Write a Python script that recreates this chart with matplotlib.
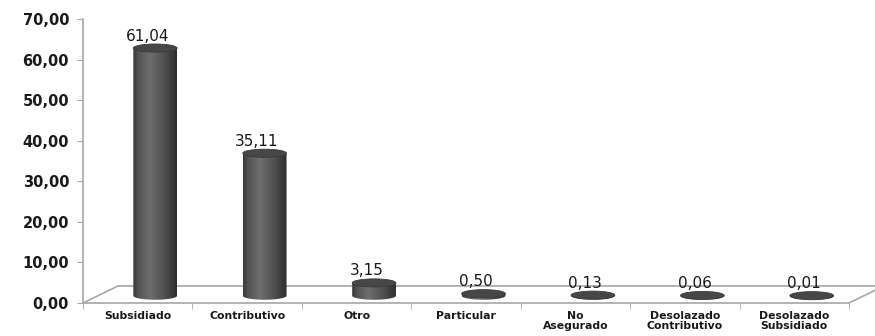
import numpy as np
import matplotlib.pyplot as plt
from matplotlib.patches import Ellipse, PathPatch
from matplotlib.path import Path

categorias = ["Subsidiado", "Contributivo", "Otro", "Particular",
              "No\nAsegurado", "Desolazado\nContributivo", "Desolazado\nSubsidiado"]
valores = [61.04, 35.11, 3.15, 0.50, 0.13, 0.06, 0.01]
ticks_y = [0, 10, 20, 30, 40, 50, 60, 70]

GRIS = "#a6a6a6"
TEXTO = "#1a1a1a"

# profundidad del piso 3D en unidades de datos
prof_x, prof_y = 0.32, 4.2
base = 1.8        # los cilindros se apoyan a media profundidad
desp = 0.16
semi_ancho = 0.20
semi_alto = 1.0   # radio vertical de la elipse


def fmt(v, dec=2):
    return f"{v:.{dec}f}".replace(".", ",")


def cilindro(ax, cx, v):
    top = base + v
    # cuerpo: rectangulo + media elipse inferior
    t = np.linspace(np.pi, 2 * np.pi, 40)
    xs = list(cx + semi_ancho * np.cos(t)) + [cx + semi_ancho, cx - semi_ancho]
    ys = list(base + semi_alto * np.sin(t)) + [top, top]
    verts = list(zip(xs, ys)) + [(xs[0], ys[0])]
    codes = [Path.MOVETO] + [Path.LINETO] * (len(verts) - 2) + [Path.CLOSEPOLY]
    patch = PathPatch(Path(verts, codes), facecolor="none", edgecolor="none",
                      transform=ax.transData)
    ax.add_patch(patch)

    # sombreado horizontal del cuerpo
    u = np.linspace(0, 1, 64)
    brillo = np.interp(u, [0, 0.12, 0.38, 0.75, 1], [0.22, 0.33, 0.43, 0.30, 0.18])
    img = np.tile(brillo, (2, 1))
    im = ax.imshow(img, cmap="gray", vmin=0, vmax=1, aspect="auto",
                   extent=[cx - semi_ancho, cx + semi_ancho, base - semi_alto, top],
                   interpolation="bilinear", zorder=3)
    im.set_clip_path(patch)

    tapa = Ellipse((cx, top), 2 * semi_ancho, 2 * semi_alto,
                   facecolor="#474747", edgecolor="#3a3a3a", lw=0.6, zorder=4)
    ax.add_patch(tapa)
    return top


fig = plt.figure(figsize=(8.75, 3.36), dpi=100)
ax = fig.add_axes([83 / 875, 33 / 336, 766 / 875, 284 / 336])
ax.set_xlim(-0.5, 6.5)
ax.set_ylim(0, 70)

for s in ["top", "right"]:
    ax.spines[s].set_visible(False)
for s in ["left", "bottom"]:
    ax.spines[s].set_color(GRIS)
    ax.spines[s].set_linewidth(1.2)

# piso en perspectiva
x0, x1 = -0.5, 6.5
ax.plot([x0, x0 + prof_x, x1 + prof_x, x1], [0, prof_y, prof_y, 0],
        color=GRIS, lw=1.2, clip_on=False, zorder=1)

ax.set_yticks(ticks_y)
ax.set_yticklabels([fmt(v) for v in ticks_y], fontsize=10.5, fontweight="bold", color=TEXTO)
ax.tick_params(axis="y", direction="out", length=4, color=GRIS, pad=6)

ax.set_xticks(range(len(categorias)))
ax.set_xticklabels(categorias, fontsize=7.8, fontweight="bold", color=TEXTO, linespacing=1.0)
ax.tick_params(axis="x", which="major", length=0, pad=6)
ax.set_xticks(np.arange(-0.5, len(categorias)), minor=True)
ax.tick_params(axis="x", which="minor", direction="out", length=4, color=GRIS)

for k, v in enumerate(valores):
    cx = k + desp
    top = cilindro(ax, cx, v)
    ax.text(cx - 0.07, top + semi_alto + 0.1, fmt(v), ha="center", va="bottom",
            fontsize=11, color=TEXTO, zorder=5)

fig.savefig("out.png", dpi=100)
